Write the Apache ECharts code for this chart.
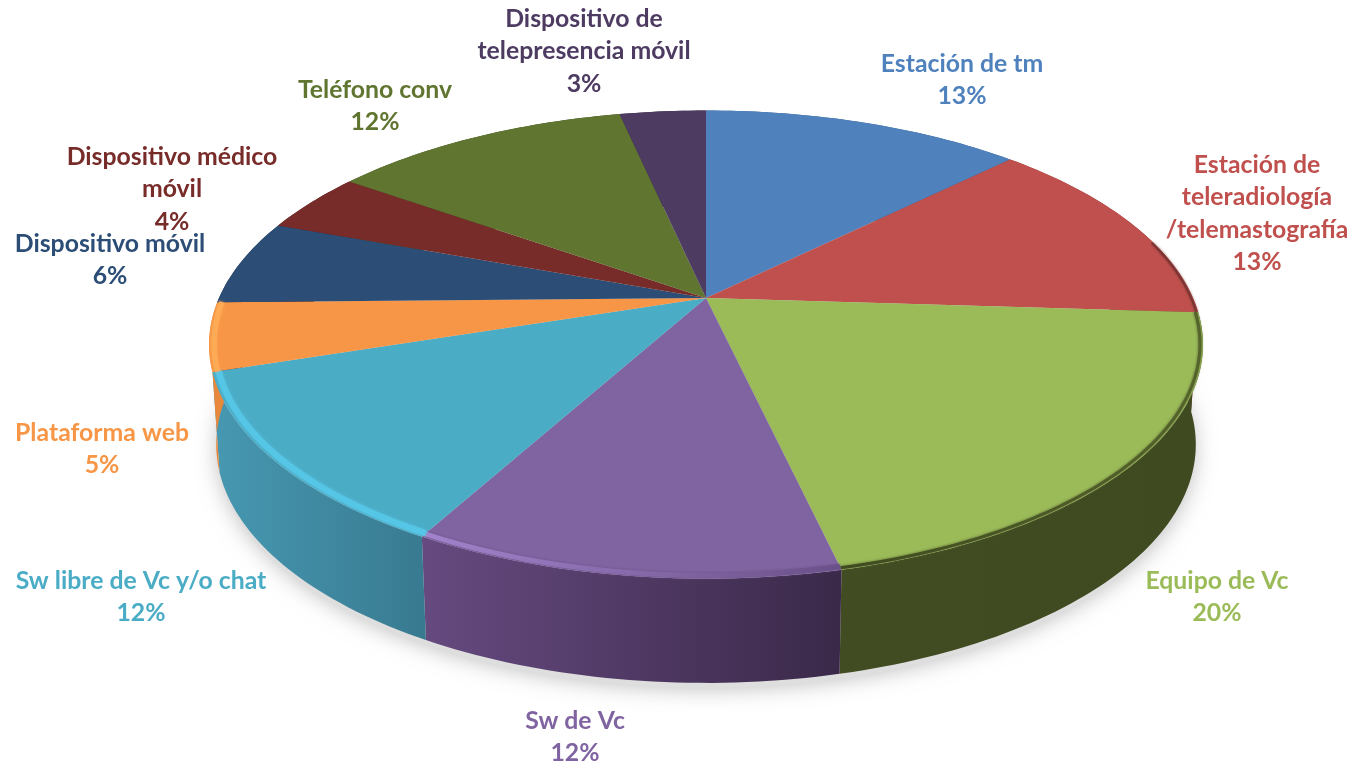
<!DOCTYPE html>
<html><head><meta charset="utf-8">
<style>html,body{margin:0;padding:0;background:#fff}#c{width:1356px;height:762px}</style>
<script src="https://cdn.jsdelivr.net/npm/echarts@6/dist/echarts.min.js"></script>
</head><body><div id="c"></div>
<script>
const categories = [
  ['Estación de tm'],
  ['Estación de','teleradiología','/telemastografía'],
  ['Equipo de Vc'],
  ['Sw de Vc'],
  ['Sw libre de Vc y/o chat'],
  ['Plataforma web'],
  ['Dispositivo móvil'],
  ['Dispositivo médico','móvil'],
  ['Teléfono conv'],
  ['Dispositivo de','telepresencia móvil']
];
const shares = [12.6,13.4,20.4,11.6,12.0,4.7,5.9,4.2,11.8,3.4];
const faceColors = ['#4f81bd','#c0504d','#9bbb59','#8064a2','#4bacc6','#f79646','#2c4d75','#772c2a','#5f7530','#4d3b62'];
const wallLeft  = ['#3a5f8c','#7f3432','#414c22','#664a80','#4798b2','#e8883c','#1f3652','#501d1c','#3f4e20','#33273f'];
const wallRight = ['#3a5f8c','#7f3432','#3f4a20','#3a2949','#387a90','#e8883c','#1f3652','#501d1c','#3f4e20','#33273f'];
const rimLeft  = [null,'#7a3533','#3f4a20','#a283cc','#56c6e6','#ffab55',null,null,null,null];
const rimRight = [null,'#7a3533','#55632c','#6a5088','#56c6e6','#ffab55',null,null,null,null];
const rimWidths = [0,2,3,5,6,5,0,0,0,0];
const labelAnchors = [[962,64],[1257,165],[1217,581],[575,721],[141,581],[102,433],[110,244],[172,157],[375,90],[584,19]];

const P = -0.199;
const top3 = {cx:706, cy:298, a:487, b:224.8};
const low3 = {cx:706, cy:397, a:480, b:229};
const wallFrom = 75*Math.PI/180, wallTo = 272*Math.PI/180;
function project(pl, th, r){
  const x = Math.sin(th)*r, y = -Math.cos(th)*r, w = 1+P*y;
  return [pl.cx + pl.a*x/w, pl.cy + pl.b*y/w];
}
function arc(pl, t0, t1, r){
  const n = Math.max(2, Math.ceil(Math.abs(t1-t0)/0.02)), out=[];
  for(let i=0;i<=n;i++) out.push(project(pl, t0+(t1-t0)*i/n, r));
  return out;
}
const total = shares.reduce((s,v)=>s+v,0);
let run = 0;
const rows = shares.map((v,i)=>{const r=[i,run,v]; run+=v; return r;});
const toAngle = v => v/total*Math.PI*2;
const hGrad = (a,b)=>({type:'linear',x:0,y:0,x2:1,y2:0,colorStops:[{offset:0,color:a},{offset:1,color:b}]});

function renderSlice(params, api){
  const i = api.value(0), s = toAngle(api.value(1)), e = s + toAngle(api.value(2));
  const mapPts = pts => pts.map(p=>api.coord(p));
  const kids = [];
  const topRim = arc(top3,s,e,1), lowRim = arc(low3,s,e,1);
  kids.push({type:'polygon', z2:1, shape:{points:mapPts(topRim.concat(lowRim.slice().reverse()))},
    style:{fill:hGrad(wallLeft[i],wallRight[i])}});
  kids.push({type:'polygon', z2:2, shape:{points:mapPts([[top3.cx,top3.cy]].concat(topRim))},
    style:{fill:faceColors[i]}});
  const rs = Math.max(s,wallFrom), re = Math.min(e,wallTo);
  if(rimLeft[i] && re>rs){
    const r = 1 - rimWidths[i]/2/260;
    kids.push({type:'polyline', z2:3, shape:{points:mapPts(arc(top3,rs,re,r))},
      style:{fill:null,stroke:hGrad(rimLeft[i],rimRight[i]),lineWidth:rimWidths[i],shadowBlur:3,shadowColor:rimRight[i]}});
  }
  return {type:'group',children:kids};
}
function renderShadow(params, api){
  const pts = arc({cx:706,cy:402,a:478,b:229},0,Math.PI*2,1).map(p=>api.coord(p));
  return {type:'polygon',shape:{points:pts},style:{fill:'#dedede',shadowBlur:22,shadowColor:'rgba(130,130,130,0.55)'}};
}
function renderLabel(params, api){
  const i = api.value(0), a = labelAnchors[i];
  const lines = categories[i].concat([Math.round(api.value(2))+'%']);
  return {type:'group',z2:10,children:lines.map((t,k)=>({type:'text',
    style:{x:a[0],y:a[1]+k*32.3,text:t,fill:faceColors[i],font:'bold 24.8px Lato, "Open Sans", sans-serif',align:'center',verticalAlign:'middle'}}))};
}
const chart = echarts.init(document.getElementById('c'),null,{renderer:'canvas'});
chart.setOption({
  animation:false, backgroundColor:'#fff',
  grid:{left:0,top:0,width:1356,height:762,containLabel:false},
  xAxis:{type:'value',min:0,max:1356,show:false},
  yAxis:{type:'value',min:0,max:762,inverse:true,show:false},
  series:[
    {type:'custom',coordinateSystem:'cartesian2d',silent:true,z:1,data:[[0]],renderItem:renderShadow,clip:false},
    {type:'custom',coordinateSystem:'cartesian2d',silent:true,z:2,data:rows,renderItem:renderSlice,clip:false},
    {type:'custom',coordinateSystem:'cartesian2d',silent:true,z:3,data:rows,renderItem:renderLabel,clip:false}
  ]
});
</script></body></html>
